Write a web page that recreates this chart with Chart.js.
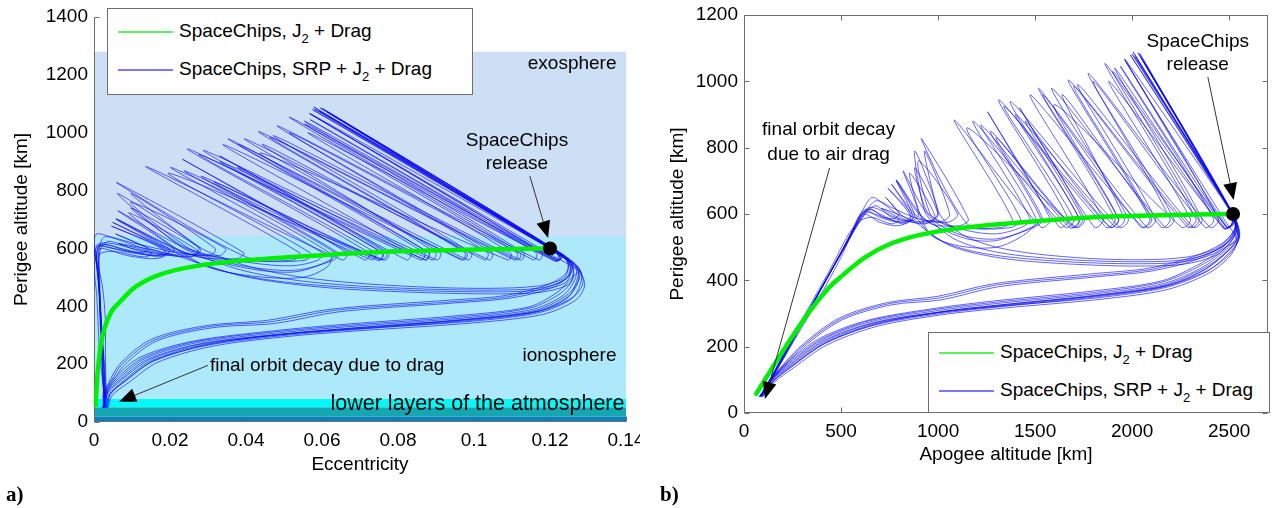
<!DOCTYPE html>
<html>
<head>
<meta charset="utf-8">
<script src="https://cdn.jsdelivr.net/npm/chart.js@4.4.0/dist/chart.umd.min.js"></script>
<style>
  body { margin: 0; background: #fff; width: 1275px; height: 508px; overflow: hidden; position: relative; font-family: 'Liberation Sans', Arial, sans-serif; }
  .wrap { position: absolute; top: 0; height: 508px; }
  #wrapA { left: 0; width: 640px; }
  #wrapB { left: 640px; width: 635px; }
  .legend { position: absolute; background: #fff; border: 1px solid #6e6e6e; font-size: 19px; color: #000; }
  .legend .row { position: absolute; left: 0; white-space: nowrap; height: 22px; line-height: 22px; }
  .legend .swatch { display: inline-block; width: 55px; height: 2px; vertical-align: middle; margin: 0 6px 0 10px; }
  .legend sub { font-size: 13px; vertical-align: -6px; line-height: 0; }
  .tag { position: absolute; font: bold 21px 'Liberation Serif', 'Times New Roman', serif; }
</style>
</head>
<body>
<div class="wrap" id="wrapA"><canvas id="chartA" width="640" height="508"></canvas></div>
<div class="wrap" id="wrapB"><canvas id="chartB" width="635" height="508"></canvas></div>

<div class="legend" style="left:107px;top:8px;width:364px;height:85px;">
  <div class="row" style="top:11px;"><span class="swatch" style="background:#5ef05e;"></span>SpaceChips, J<sub>2</sub> + Drag</div>
  <div class="row" style="top:49px;"><span class="swatch" style="background:#7a7af2;"></span>SpaceChips, SRP + J<sub>2</sub> + Drag</div>
</div>
<div class="legend" style="left:928px;top:332px;width:340px;height:79px;">
  <div class="row" style="top:8px;"><span class="swatch" style="background:#5ef05e;"></span>SpaceChips, J<sub>2</sub> + Drag</div>
  <div class="row" style="top:46px;"><span class="swatch" style="background:#7a7af2;"></span>SpaceChips, SRP + J<sub>2</sub> + Drag</div>
</div>
<div class="tag" style="left:6px;top:482px;">a)</div>
<div class="tag" style="left:660px;top:482px;">b)</div>

<script>
// every point is [apogee altitude km, perigee altitude km, eccentricity]
const release = [2520, 600, 0.120];

const j2Drag = [[2520,600,0.120],[2146,596,0.100],[1802,590,0.080],[1498,578,0.062],[1121,558,0.039],[906,537,0.026],[746,508,0.017],[620,468,0.011],[508,415,0.0068],[441,380,0.0045],[339,307,0.0024],[205,191,0.0011],[58,53,0.0004]];

// SRP + J2 + drag runs that end in the low perigee bundle
const srpL1 = [[2520,600,0.120],[2005,1089,0.0578],[2528,588,0.1222],[2546,530,0.1273],[2492,491,0.1271],[2373,431,0.1248],[2167,381,0.1167],[1826,351,0.0988],[1313,320,0.0690],[1015,300,0.0508],[673,265,0.0298],[417,210,0.0155],[246,140,0.0081],[150,95,0.0042],[92,49,0.0033]];
const srpL2 = [[2520,600,0.120],[2039,1084,0.0601],[2532,582,0.1229],[2550,525,0.1279],[2495,480,0.1281],[2380,425,0.1256],[2170,378,0.1171],[1830,348,0.0992],[1320,322,0.0693],[1000,303,0.0496],[660,270,0.0285],[410,215,0.0146],[240,145,0.0072],[145,98,0.0036],[88,49,0.0030]];
const srpL3 = [[2520,600,0.120],[2540,535,0.1267],[2488,495,0.1266],[2365,440,0.1237],[2160,390,0.1156],[1820,360,0.0978],[1300,330,0.0674],[1000,309,0.0491],[650,275,0.0274],[400,220,0.0135],[235,150,0.0065],[140,100,0.0031],[85,50,0.0027]];
const srpL4 = [[2520,600,0.120],[1962,1066,0.0568],[2480,578,0.1203],[2540,520,0.1277],[2500,470,0.1291],[2390,420,0.1266],[2180,372,0.1181],[1840,343,0.1002],[1330,316,0.0704],[1030,297,0.0520],[690,262,0.0312],[430,206,0.0167],[255,136,0.0091],[155,92,0.0048],[95,49,0.0036]];
const srpL5 = [[2520,600,0.120],[2060,1060,0.0630],[2534,582,0.1230],[2552,528,0.1278],[2480,500,0.1258],[2350,450,0.1221],[2150,398,0.1145],[1800,368,0.0960],[1290,338,0.0662],[990,316,0.0479],[640,280,0.0263],[390,225,0.0123],[228,155,0.0056],[135,103,0.0025],[82,50,0.0025]];
const srpL6 = [[2520,600,0.120],[2530,545,0.1254],[2470,505,0.1249],[2330,462,0.1201],[2100,428,0.1094],[1826,411,0.0944],[1313,381,0.0645],[1015,341,0.0478],[759,326,0.0313],[503,280,0.0165],[300,195,0.0079],[160,110,0.0038],[85,50,0.0027]];
const srpL7 = [[2520,600,0.120],[1990,1080,0.0575],[2526,586,0.1223],[2525,550,0.1248],[2460,510,0.1240],[2310,470,0.1184],[2080,436,0.1076],[1800,420,0.0921],[1290,390,0.0623],[1000,352,0.0459],[740,333,0.0294],[490,286,0.0151],[290,200,0.0068],[155,113,0.0032],[82,50,0.0025]];
const srpL8 = [[2520,600,0.120],[2538,560,0.1248],[2548,522,0.1280],[2497,475,0.1286],[2385,428,0.1257],[2175,383,0.1170],[1835,355,0.0990],[1325,326,0.0693],[1020,305,0.0508],[680,268,0.0301],[425,212,0.0159],[250,142,0.0082],[152,96,0.0043],[94,49,0.0035]];
const srpL9 = [[2520,600,0.120],[2015,1075,0.0593],[2530,585,0.1225],[2549,527,0.1277],[2490,486,0.1274],[2368,436,0.1242],[2163,386,0.1161],[1822,356,0.0982],[1306,325,0.0682],[1008,305,0.0500],[662,272,0.0285],[405,217,0.0141],[238,147,0.0069],[142,99,0.0033],[86,49,0.0029]];
const srpL10 = [[2520,600,0.120],[2537,548,0.1256],[2483,498,0.1261],[2358,446,0.1229],[2155,395,0.1150],[1812,364,0.0970],[1295,334,0.0668],[995,313,0.0485],[645,278,0.0268],[395,222,0.0129],[232,152,0.0061],[138,101,0.0028],[84,50,0.0026]];
const srpL11 = [[2520,600,0.120],[2045,1072,0.0613],[2533,584,0.1228],[2532,540,0.1259],[2465,502,0.1248],[2320,466,0.1193],[2090,432,0.1085],[1815,415,0.0934],[1300,386,0.0633],[1008,347,0.0468],[750,330,0.0304],[497,283,0.0158],[295,198,0.0073],[158,112,0.0035],[84,50,0.0026]];
const srpL12 = [[2520,600,0.120],[2542,532,0.1270],[2494,488,0.1275],[2377,434,0.1248],[2170,384,0.1167],[1830,354,0.0988],[1316,323,0.0690],[1012,303,0.0504],[668,268,0.0292],[414,212,0.0151],[243,142,0.0077],[148,96,0.0040],[90,49,0.0032]];

// SRP + J2 + drag runs that walk left through the fan and decay near circular
const srpU1 = [[2520,600,0.120],[2030,1086,0.0595],[2530,588,0.1223],[2490,560,0.1221],[1962,1066,0.0568],[2445,585,0.1178],[2400,560,0.1171],[1774,1024,0.0482],[2215,585,0.1048],[2170,560,0.1040],[1586,979,0.0396],[1980,585,0.0911],[1935,560,0.0902],[1373,939,0.0288],[1727,585,0.0758],[1680,558,0.0748],[1221,868,0.0238],[1505,585,0.0620],[1450,540,0.0617],[1300,500,0.0550],[1100,505,0.0414],[950,545,0.0284],[853,723,0.0091],[985,592,0.0274],[930,570,0.0253],[780,590,0.0135],[660,620,0.0028],[600,600,0.0],[535,520,0.0011],[430,410,0.0015],[330,305,0.0019],[228,200,0.0021],[145,112,0.0025],[88,52,0.0028]];
const srpU2 = [[2520,600,0.120],[2510,565,0.1229],[2470,556,0.1213],[1860,1054,0.0514],[2329,585,0.1113],[2285,560,0.1106],[1672,1004,0.0433],[2091,585,0.0976],[2045,560,0.0967],[1518,979,0.0353],[1912,585,0.0870],[1865,560,0.0860],[1313,944,0.0246],[1672,585,0.0724],[1625,560,0.0713],[1255,908,0.0233],[1578,585,0.0666],[1530,560,0.0653],[1084,883,0.0137],[1382,585,0.0541],[1330,560,0.0526],[1150,570,0.0401],[913,828,0.0059],[1156,585,0.0394],[1110,565,0.0378],[950,575,0.0263],[785,702,0.0058],[870,590,0.0197],[820,570,0.0177],[700,600,0.0071],[640,615,0.0018],[600,595,0.0004],[500,470,0.0022],[390,350,0.0030],[280,240,0.0030],[180,140,0.0031],[110,70,0.0031],[80,50,0.0023]];
const srpU3 = [[2520,600,0.120],[2535,560,0.1246],[2500,520,0.1255],[2420,480,0.1239],[2250,455,0.1161],[2000,450,0.1019],[1700,455,0.0835],[1400,468,0.0637],[1200,485,0.0495],[1050,510,0.0377],[950,545,0.0284],[900,580,0.0225],[742,677,0.0046],[860,590,0.0190],[800,565,0.0166],[700,575,0.0089],[620,600,0.0014],[570,560,0.0007],[470,450,0.0015],[360,335,0.0019],[260,225,0.0026],[170,130,0.0031],[110,72,0.0029],[82,50,0.0025]];
const srpU4 = [[2520,600,0.120],[2540,555,0.1252],[2505,515,0.1261],[2430,475,0.1248],[2260,448,0.1172],[2010,443,0.1030],[1720,448,0.0852],[1420,460,0.0656],[1220,478,0.0513],[1060,505,0.0388],[940,550,0.0274],[870,580,0.0204],[708,617,0.0065],[800,585,0.0152],[760,570,0.0135],[660,590,0.0050],[600,580,0.0014],[540,540,0.0],[450,440,0.0007],[350,335,0.0011],[250,230,0.0015],[165,135,0.0023],[105,70,0.0027],[78,50,0.0022]];
const srpU5 = [[2520,600,0.120],[2000,1082,0.0580],[2527,590,0.1220],[2485,562,0.1217],[1900,1030,0.0555],[2345,585,0.1122],[2300,560,0.1114],[1700,985,0.0463],[2100,585,0.0981],[2055,560,0.0973],[1475,959,0.0340],[1850,585,0.0833],[1805,560,0.0823],[1420,920,0.0331],[1755,585,0.0775],[1710,560,0.0765],[1150,860,0.0196],[1425,585,0.0569],[1380,560,0.0558],[1200,555,0.0444],[1050,565,0.0337],[960,600,0.0251],[900,760,0.0097],[1100,600,0.0346],[1050,575,0.0330],[900,585,0.0221],[760,620,0.0099],[680,640,0.0028],[620,600,0.0014],[520,500,0.0015],[410,390,0.0015],[300,275,0.0019],[200,170,0.0023],[120,85,0.0027],[85,50,0.0027]];
const srpU6 = [[2520,600,0.120],[2525,570,0.1233],[2485,560,0.1218],[1940,1045,0.0569],[2420,585,0.1164],[2375,560,0.1157],[1800,1000,0.0514],[2195,585,0.1036],[2150,560,0.1028],[1640,960,0.0443],[1960,585,0.0899],[1915,560,0.0890],[1400,900,0.0332],[1730,585,0.0760],[1690,560,0.0753],[1270,850,0.0282],[1530,585,0.0635],[1480,560,0.0622],[1300,520,0.0535],[1150,525,0.0433],[1000,560,0.0307],[900,600,0.0210],[785,702,0.0058],[880,595,0.0200],[830,575,0.0180],[720,590,0.0092],[650,615,0.0025],[600,590,0.0007],[500,485,0.0011],[400,375,0.0018],[300,270,0.0023],[200,165,0.0027],[125,90,0.0027],[86,50,0.0028]];
const srpU7 = [[2520,600,0.120],[2533,565,0.1241],[2500,530,0.1248],[2430,495,0.1234],[2280,470,0.1167],[2050,462,0.1040],[1780,466,0.0876],[1500,480,0.0692],[1300,500,0.0550],[1150,530,0.0429],[1050,570,0.0334],[1000,610,0.0271],[930,790,0.0097],[1060,600,0.0319],[1020,578,0.0308],[900,590,0.0218],[760,690,0.0049],[860,595,0.0186],[810,575,0.0166],[700,590,0.0078],[630,610,0.0014],[590,575,0.0011],[490,470,0.0015],[380,355,0.0019],[280,250,0.0023],[185,150,0.0027],[115,78,0.0029],[80,50,0.0023]];
const srpU8 = [[2520,600,0.120],[2520,572,0.1229],[2478,557,0.1217],[1910,1040,0.0554],[2360,585,0.1131],[2315,560,0.1123],[1720,990,0.0472],[2120,585,0.0993],[2075,560,0.0984],[1540,960,0.0380],[1930,585,0.0881],[1885,560,0.0872],[1340,925,0.0276],[1700,585,0.0741],[1655,560,0.0731],[1180,880,0.0202],[1475,585,0.0601],[1430,560,0.0590],[1300,540,0.0521],[1150,550,0.0415],[1020,575,0.0310],[940,610,0.0231],[880,740,0.0097],[1000,600,0.0279],[960,575,0.0269],[840,580,0.0183],[720,630,0.0064],[660,650,0.0007],[610,610,0.0],[520,505,0.0011],[420,400,0.0015],[320,295,0.0019],[215,185,0.0023],[135,100,0.0027],[88,52,0.0028]];
const srpU9 = [[2520,600,0.120],[2536,562,0.1245],[2502,525,0.1253],[2425,488,0.1236],[2270,462,0.1167],[2030,456,0.1033],[1750,460,0.0862],[1460,472,0.0673],[1260,490,0.0531],[1100,520,0.0403],[1000,560,0.0307],[930,610,0.0224],[880,790,0.0062],[1000,605,0.0275],[960,580,0.0266],[840,585,0.0180],[730,650,0.0057],[800,600,0.0141],[760,585,0.0124],[670,600,0.0050],[615,605,0.0007],[560,550,0.0007],[460,440,0.0015],[355,330,0.0019],[255,222,0.0025],[165,128,0.0028],[108,72,0.0028],[82,50,0.0025]];
const srpU10 = [[2520,600,0.120],[2512,568,0.1228],[2472,558,0.1212],[1880,1000,0.0563],[2300,585,0.1096],[2255,560,0.1089],[1600,930,0.0438],[1930,585,0.0881],[1885,560,0.0872],[1450,880,0.0378],[1745,585,0.0769],[1700,560,0.0759],[1300,830,0.0316],[1540,585,0.0642],[1495,560,0.0631],[1300,525,0.0532],[1130,535,0.0413],[1000,570,0.0300],[920,620,0.0210],[820,730,0.0063],[900,600,0.0210],[860,578,0.0199],[760,590,0.0121],[680,625,0.0039],[625,600,0.0018],[545,530,0.0011],[440,420,0.0015],[340,315,0.0019],[235,205,0.0023],[150,118,0.0025],[92,55,0.0029]];

const srpRuns = [srpL1, srpL2, srpL3, srpL4, srpL5, srpL6, srpL7, srpL8, srpL9, srpL10, srpL11, srpL12,
  srpU1, srpU2, srpU3, srpU4, srpU5, srpU6, srpU7, srpU8, srpU9, srpU10];

// axis ticks
const eccTicks = [0, 0.02, 0.04, 0.06, 0.08, 0.1, 0.12, 0.14];
const apogeeTicks = [0, 500, 1000, 1500, 2000, 2500];
const perigeeTicksA = [0, 200, 400, 600, 800, 1000, 1200, 1400];
const perigeeTicksB = [0, 200, 400, 600, 800, 1000, 1200];

// atmosphere layers (perigee altitude limits, km)
const layerEdges = [0, 18, 51, 80, 643, 1280];
const layerColors = ['#0f7dc2', '#14a7b2', '#00fafa', '#aee9fb', '#cddff5'];

Chart.defaults.font.family = "'Liberation Sans', Arial, sans-serif";
Chart.defaults.font.size = 19;
Chart.defaults.color = '#000';

function toPoints(run, col) {
  return run.map(p => ({ x: p[col], y: p[1] }));
}

function arrow(ctx, x1, y1, x2, y2) {
  const ang = Math.atan2(y2 - y1, x2 - x1);
  const len = 17, half = 7;
  const bx = x2 - len * Math.cos(ang), by = y2 - len * Math.sin(ang);
  ctx.strokeStyle = '#333';
  ctx.lineWidth = 1;
  ctx.beginPath();
  ctx.moveTo(x1, y1);
  ctx.lineTo(bx, by);
  ctx.stroke();
  ctx.fillStyle = '#000';
  ctx.beginPath();
  ctx.moveTo(x2, y2);
  ctx.lineTo(bx + half * Math.sin(ang), by - half * Math.cos(ang));
  ctx.lineTo(bx - half * Math.sin(ang), by + half * Math.cos(ang));
  ctx.closePath();
  ctx.fill();
}

function panelPlugin(cfg) {
  return {
    id: 'panel' + cfg.name,
    beforeDatasetsDraw(chart) {
      const { ctx, chartArea: a, scales } = chart;
      const L = Math.round(a.left) + 0.5, R = Math.round(a.right) - 0.5;
      const T = Math.round(a.top) + 0.5, B = Math.round(a.bottom) - 0.5;
      ctx.save();
      ctx.strokeStyle = '#6e6e6e';
      ctx.lineWidth = 1;
      // inward tick marks
      ctx.beginPath();
      cfg.yTicks.forEach(v => {
        const y = Math.round(scales.y.getPixelForValue(v)) + 0.5;
        ctx.moveTo(L, y); ctx.lineTo(L + 5, y);
        if (!cfg.layers) { ctx.moveTo(R, y); ctx.lineTo(R - 5, y); }
      });
      cfg.xTicks.forEach(v => {
        const x = Math.round(scales.x.getPixelForValue(v)) + 0.5;
        ctx.moveTo(x, B); ctx.lineTo(x, B - 5);
        if (!cfg.layers) { ctx.moveTo(x, T); ctx.lineTo(x, T + 5); }
      });
      ctx.stroke();
      if (cfg.layers) {
        for (let i = 0; i < layerEdges.length - 1; i++) {
          const y1 = scales.y.getPixelForValue(layerEdges[i]);
          const y2 = scales.y.getPixelForValue(layerEdges[i + 1]);
          ctx.fillStyle = layerColors[i];
          ctx.fillRect(a.left, y2, a.right - a.left, y1 - y2);
        }
        ctx.beginPath();
        ctx.moveTo(L, T); ctx.lineTo(L, B); ctx.lineTo(R, B);
        ctx.stroke();
      } else {
        ctx.strokeRect(L, T, R - L, B - T);
      }
      ctx.restore();
    },
    afterDatasetsDraw(chart) {
      const { ctx, chartArea: a, scales } = chart;
      const px = v => scales.x.getPixelForValue(v);
      const py = v => scales.y.getPixelForValue(v);
      ctx.save();
      ctx.fillStyle = '#000';
      ctx.textBaseline = 'middle';
      cfg.notes.forEach(n => {
        ctx.font = (n.size || 19) + "px 'Liberation Sans', Arial, sans-serif";
        ctx.textAlign = n.align;
        ctx.fillText(n.text, px(n.x), py(n.y));
      });
      cfg.arrows.forEach(r => arrow(ctx, px(r[0]), py(r[1]), px(r[2]), py(r[3])));
      // axis titles
      ctx.font = "19px 'Liberation Sans', Arial, sans-serif";
      ctx.textAlign = 'center';
      ctx.fillText(cfg.xTitle, (a.left + a.right) / 2, a.bottom + cfg.xTitleGap);
      ctx.translate(a.left - cfg.yTitleGap, (a.top + a.bottom) / 2);
      ctx.rotate(-Math.PI / 2);
      ctx.fillText(cfg.yTitle, 0, 0);
      ctx.restore();
    }
  };
}

function makePanel(id, cfg) {
  const datasets = [];
  datasets.push({
    data: [{ x: release[cfg.col], y: release[1] }],
    pointRadius: 7, pointBackgroundColor: '#000', pointBorderWidth: 0, showLine: false
  });
  datasets.push({
    data: toPoints(j2Drag, cfg.col),
    showLine: true, borderColor: '#00f000', borderWidth: 4.5, pointRadius: 0, tension: 0.35
  });
  srpRuns.forEach(run => datasets.push({
    data: toPoints(run, cfg.col),
    showLine: true, borderColor: 'rgba(10,10,240,0.7)', borderWidth: 0.9, pointRadius: 0, tension: 0.3
  }));

  return new Chart(document.getElementById(id), {
    type: 'scatter',
    data: { datasets },
    options: {
      responsive: false,
      animation: false,
      events: [],
      layout: { padding: cfg.padding },
      plugins: { legend: { display: false }, tooltip: { enabled: false } },
      scales: {
        x: {
          type: 'linear', min: cfg.xMin, max: cfg.xMax,
          grid: { display: false, drawTicks: false }, border: { display: false },
          ticks: { padding: 7, color: '#000', maxRotation: 0, callback: v => String(+v.toFixed(2)) },
          afterBuildTicks: s => { s.ticks = cfg.xTicks.map(v => ({ value: v })); },
          afterFit: s => { s.height = cfg.xHeight; s.paddingLeft = 0; s.paddingRight = 0; }
        },
        y: {
          type: 'linear', min: 0, max: cfg.yMax,
          grid: { display: false, drawTicks: false }, border: { display: false },
          ticks: { padding: 6, color: '#000', callback: v => String(v) },
          afterBuildTicks: s => { s.ticks = cfg.yTicks.map(v => ({ value: v })); },
          afterFit: s => { s.width = cfg.yWidth; s.paddingTop = 0; s.paddingBottom = 0; }
        }
      }
    },
    plugins: [panelPlugin(cfg)]
  });
}

makePanel('chartA', {
  name: 'A', col: 2, xMin: 0, xMax: 0.14, yMax: 1400,
  xTicks: eccTicks, yTicks: perigeeTicksA,
  padding: { top: 17, right: 14, left: 0, bottom: 0 }, yWidth: 94, xHeight: 86,
  layers: true,
  xTitle: 'Eccentricity', xTitleGap: 43,
  yTitle: 'Perigee altitude [km]', yTitleGap: 72,
  notes: [
    { text: 'exosphere', x: 0.1375, y: 1240, align: 'right' },
    { text: 'SpaceChips', x: 0.1113, y: 972, align: 'center' },
    { text: 'release', x: 0.1113, y: 893, align: 'center' },
    { text: 'ionosphere', x: 0.1375, y: 230, align: 'right' },
    { text: 'final orbit decay due to drag', x: 0.0305, y: 196, align: 'left' },
    { text: 'lower layers of the atmosphere', x: 0.1396, y: 62, align: 'right', size: 21.5 }
  ],
  arrows: [[0.1147, 850, 0.1195, 636], [0.0300, 196, 0.0066, 70]]
});

makePanel('chartB', {
  name: 'B', col: 0, xMin: 0, xMax: 2700, yMax: 1200,
  xTicks: apogeeTicks, yTicks: perigeeTicksB,
  padding: { top: 15, right: 5, left: 0, bottom: 0 }, yWidth: 104, xHeight: 95,
  layers: false,
  xTitle: 'Apogee altitude [km]', xTitleGap: 42,
  yTitle: 'Perigee altitude [km]', yTitleGap: 66,
  notes: [
    { text: 'SpaceChips', x: 2338, y: 1118, align: 'center' },
    { text: 'release', x: 2338, y: 1049, align: 'center' },
    { text: 'final orbit decay', x: 436, y: 853, align: 'center' },
    { text: 'due to air drag', x: 436, y: 778, align: 'center' }
  ],
  arrows: [[2390, 1013, 2523, 642], [441, 739, 108, 42]]
});
</script>
</body>
</html>
